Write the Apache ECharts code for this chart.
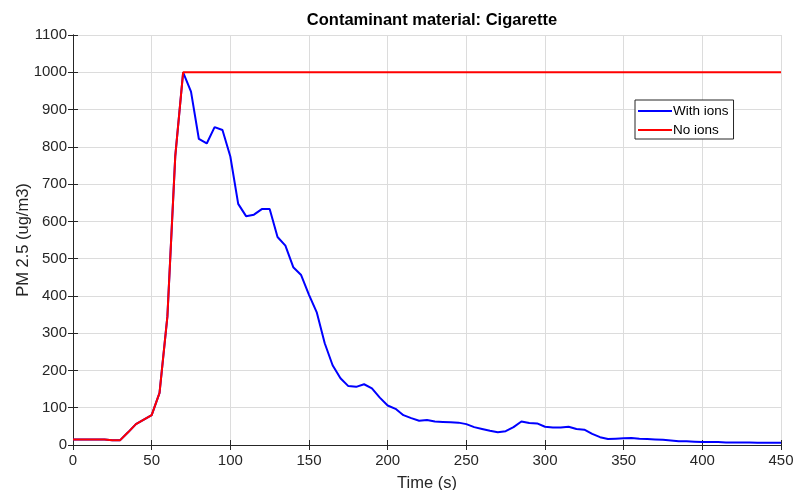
<!DOCTYPE html>
<html>
<head>
<meta charset="utf-8">
<script src="https://cdn.jsdelivr.net/npm/echarts@6/dist/echarts.min.js"></script>
<style>html,body{margin:0;padding:0;background:#fff}#c{width:795px;height:490px}</style>
</head>
<body>
<div id="c"></div>
<script>
var titleText = 'Contaminant material: Cigarette';
var xName = 'Time (s)';
var yName = 'PM 2.5 (ug/m3)';
var seriesNames = ['With ions', 'No ions'];

var times = [0,5,10,15,20,25,30,35,40,45,50,55,60,65,70,75,80,85,90,95,
  100,105,110,115,120,125,130,135,140,145,150,155,160,165,170,175,180,185,190,195,
  200,205,210,215,220,225,230,235,240,245,250,255,260,265,270,275,280,285,290,295,
  300,305,310,315,320,325,330,335,340,345,350,355,360,365,370,375,380,385,390,395,
  400,405,410,415,420,425,430,435,440,445,450];

var withIons = [15,15,15,15,15,13,13,34,56,68,80,140,345,775,1000,948,821,809,853,845,
  774,647,614,618,633,633,558,535,477,456,403,355,273,214,179,158,156,163,152,127,
  106,97,80,72,65,67,63,62,61,60,56,48,43,38,34,37,48,63,59,58,
  49,47,47,49,43,41,30,21,16,17,18,19,17,16,15,14,12,10,10,9,
  8,8,8,7,7,7,7,6,6,6,6];

var noIons = [15,15,15,15,15,13,13,34,56,68,80,140,345,775,1000,1000,1000,1000,1000,1000,
  1000,1000,1000,1000,1000,1000,1000,1000,1000,1000,1000,1000,1000,1000,1000,1000,1000,1000,1000,1000,
  1000,1000,1000,1000,1000,1000,1000,1000,1000,1000,1000,1000,1000,1000,1000,1000,1000,1000,1000,1000,
  1000,1000,1000,1000,1000,1000,1000,1000,1000,1000,1000,1000,1000,1000,1000,1000,1000,1000,1000,1000,
  1000,1000,1000,1000,1000,1000,1000,1000,1000,1000,1000];

function pairs(v){ return times.map(function(t,i){ return [t, v[i]]; }); }
function plain(v){ return String(v); }

var axisColor = '#262626';
var font = 'Liberation Sans, Arial, Helvetica, sans-serif';

var chart = echarts.init(document.getElementById('c'), null, {renderer:'canvas'});
chart.setOption({
  animation: false,
  backgroundColor: '#ffffff',
  title: {
    text: titleText,
    left: 427, top: 7, textAlign: 'center',
    textStyle: {fontFamily: font, fontSize: 16.5, fontWeight: 'bold', color: '#000'}
  },
  legend: {
    data: [{name: seriesNames[0], icon: 'rect'}, {name: seriesNames[1], icon: 'rect'}],
    orient: 'vertical',
    left: 635, top: 100,
    itemWidth: 34, itemHeight: 2, itemGap: 5,
    padding: [4, 5, 2, 3],
    borderColor: axisColor, borderWidth: 1, backgroundColor: '#fff',
    textStyle: {fontFamily: font, fontSize: 13.5, color: '#000', padding: [0,0,0,-4]}
  },
  grid: {left: 73, right: 14, top: 35, bottom: 45, containLabel: false, outerBoundsMode: 'none'},
  xAxis: [{
    type: 'value', min: 0, max: 450, interval: 50,
    name: xName, nameLocation: 'middle', nameGap: 30, nameMoveOverlap: false,
    nameTextStyle: {fontFamily: font, fontSize: 16.5, color: axisColor},
    axisLine: {show: true, lineStyle: {color: axisColor, width: 1}},
    axisTick: {show: true, inside: true, length: 5, lineStyle: {color: axisColor}},
    axisLabel: {fontFamily: font, fontSize: 15, color: axisColor, margin: 8, formatter: plain},
    splitLine: {show: true, lineStyle: {color: '#dcdcdc', width: 1}}
  }, {
    type: 'value', min: 0, max: 450, interval: 50, position: 'top',
    axisLine: {show: true, lineStyle: {color: axisColor, width: 1}},
    axisTick: {show: true, inside: true, length: 5, lineStyle: {color: axisColor}},
    axisLabel: {show: false}, splitLine: {show: false}
  }],
  yAxis: [{
    type: 'value', min: 0, max: 1100, interval: 100,
    name: yName, nameLocation: 'middle', nameGap: 41, nameRotate: 90, nameMoveOverlap: false,
    nameTextStyle: {fontFamily: font, fontSize: 16.5, color: axisColor},
    axisLine: {show: true, lineStyle: {color: axisColor, width: 1}},
    axisTick: {show: true, inside: true, length: 5, lineStyle: {color: axisColor}},
    axisLabel: {fontFamily: font, fontSize: 15, color: axisColor, margin: 6, formatter: plain},
    splitLine: {show: true, lineStyle: {color: '#dcdcdc', width: 1}}
  }, {
    type: 'value', min: 0, max: 1100, interval: 100, position: 'right',
    axisLine: {show: true, lineStyle: {color: axisColor, width: 1}},
    axisTick: {show: true, inside: true, length: 5, lineStyle: {color: axisColor}},
    axisLabel: {show: false}, splitLine: {show: false}
  }],
  series: [{
    name: seriesNames[0], type: 'line', data: pairs(withIons),
    showSymbol: false, symbol: 'none',
    lineStyle: {color: '#0000ff', width: 2}, itemStyle: {color: '#0000ff'}, z: 2
  }, {
    name: seriesNames[1], type: 'line', data: pairs(noIons),
    showSymbol: false, symbol: 'none',
    lineStyle: {color: '#ff0000', width: 2}, itemStyle: {color: '#ff0000'}, z: 3
  }]
});
</script>
</body>
</html>
